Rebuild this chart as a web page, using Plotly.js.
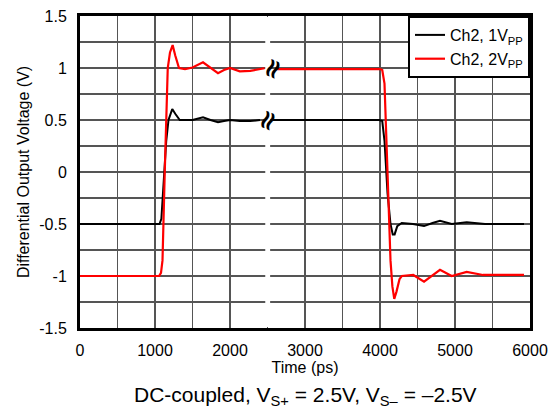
<!DOCTYPE html>
<html>
<head>
<meta charset="utf-8">
<script src="https://cdn.plot.ly/plotly-3.0.1.min.js"></script>
<style>html,body{margin:0;padding:0;background:#fff;}#chart{width:553px;height:413px;}</style>
</head>
<body>
<div id="chart"></div>
<script>
// Ch2, 1Vpp (black)
var tBlack = [0, 1060, 1085, 1110, 1150, 1180, 1230, 1270, 1330, 1500, 1640, 1740, 1840, 1920, 2000, 2130, 2270, 2400, null,
              2570, 3000, 3500, 3990, 4030, 4060, 4100, 4140, 4170, 4195, 4230, 4290, 4440, 4587, 4700, 4800, 4956, 5156, 5400, 5920];
var vBlack = [-0.5, -0.5, -0.45, -0.2, 0.3, 0.5, 0.605, 0.56, 0.5, 0.5, 0.525, 0.5, 0.478, 0.49, 0.5, 0.49, 0.49, 0.5, null,
              0.5, 0.5, 0.5, 0.5, 0.49, 0.3, -0.2, -0.5, -0.6, -0.6, -0.52, -0.49, -0.5, -0.52, -0.49, -0.47, -0.5, -0.484, -0.5, -0.5];
// Ch2, 2Vpp (red)
var tRed = [0, 1055, 1080, 1100, 1130, 1170, 1200, 1235, 1270, 1320, 1400, 1500, 1640, 1740, 1840, 1920, 2000, 2130, 2270, 2460, null,
            2630, 3000, 3500, 4000, 4030, 4060, 4100, 4140, 4165, 4190, 4220, 4260, 4290, 4444, 4587, 4700, 4800, 4956, 5156, 5373, 5920];
var vRed = [-1, -1, -0.97, -0.85, 0, 1.0, 1.15, 1.22, 1.12, 1.0, 0.99, 1.005, 1.055, 1.0, 0.95, 0.98, 1.0, 0.968, 0.972, 0.998, null,
            0.99, 0.99, 0.99, 0.99, 0.98, 0.85, 0, -0.85, -1.1, -1.22, -1.15, -1.03, -1.0, -0.99, -1.055, -0.99, -0.94, -1.0, -0.96, -0.99, -0.99];
var seriesNames = ['Ch2, 1V<sub>PP</sub>', 'Ch2, 2V<sub>PP</sub>'];
var xTicks = [0, 1000, 2000, 3000, 4000, 5000, 6000];
var yTicks = [-1.5, -1, -0.5, 0, 0.5, 1, 1.5];
var breakMarks = [{t: 2485, v: 0.5}, {t: 2555, v: 1.0}];

var FONT = 'Liberation Sans, Arial, sans-serif';
var gridCol = '#555555';

var data = [
  {x: tBlack, y: vBlack, mode: 'lines', name: seriesNames[0], line: {color: '#000000', width: 2}, connectgaps: false},
  {x: tRed, y: vRed, mode: 'lines', name: seriesNames[1], line: {color: '#ff0000', width: 2.2}, connectgaps: false}
];

var annotations = breakMarks.map(function (b) {
  return {x: b.t, y: b.v, xref: 'x', yref: 'y', text: '<b>≈</b>', showarrow: false, textangle: -68,
          font: {family: 'DejaVu Serif', size: 27, color: '#000'}, xanchor: 'center', yanchor: 'middle'};
});
annotations.push({
  x: 0.5, y: -0.218, xref: 'paper', yref: 'paper', showarrow: false,
  text: 'DC-coupled, V<sub>S+</sub> = 2.5V, V<sub>S\u2013</sub> = \u20132.5V',
  font: {family: FONT, size: 21, color: '#000'}, xanchor: 'center', yanchor: 'middle'
});

var layout = {
  width: 553, height: 413,
  margin: {l: 80, r: 23, t: 16, b: 85},
  paper_bgcolor: '#fff', plot_bgcolor: '#fff',
  font: {family: FONT, size: 16, color: '#000'},
  showlegend: true,
  legend: {x: 1, xanchor: 'right', y: 1, yanchor: 'top', bgcolor: '#fff', bordercolor: '#000', borderwidth: 2,
           font: {family: FONT, size: 16, color: '#000'}, tracegroupgap: 0},
  xaxis: {
    range: [0, 6000], tickvals: xTicks, ticktext: xTicks.map(String),
    showgrid: true, gridcolor: gridCol, gridwidth: 1.4,
    minor: {dtick: 500, tick0: 0, showgrid: true, gridcolor: gridCol, gridwidth: 1.4},
    showline: true, linecolor: '#000', linewidth: 3, mirror: true, zeroline: false,
    ticks: 'outside', ticklen: 6, tickcolor: 'rgba(0,0,0,0)',
    tickfont: {family: FONT, size: 16},
    title: {text: 'Time (ps)', font: {family: FONT, size: 16}, standoff: 2}
  },
  yaxis: {
    range: [-1.5, 1.5], tickvals: yTicks, ticktext: yTicks.map(String),
    showgrid: true, gridcolor: gridCol, gridwidth: 1.4,
    minor: {dtick: 0.25, tick0: 0, showgrid: true, gridcolor: gridCol, gridwidth: 1.4},
    showline: true, linecolor: '#000', linewidth: 3, mirror: true, zeroline: false,
    ticks: 'outside', ticklen: 7, tickcolor: 'rgba(0,0,0,0)',
    tickfont: {family: FONT, size: 16},
    title: {text: 'Differential Output Voltage (V)', font: {family: FONT, size: 16}, standoff: 6}
  },
  shapes: [{type: 'rect', xref: 'x', yref: 'y', x0: 2470, x1: 2535, y0: -1.49, y1: 1.49,
            fillcolor: '#fff', line: {width: 0}, layer: 'between'}],
  annotations: annotations
};

Plotly.newPlot('chart', data, layout, {displayModeBar: false, staticPlot: true});
</script>
</body>
</html>
